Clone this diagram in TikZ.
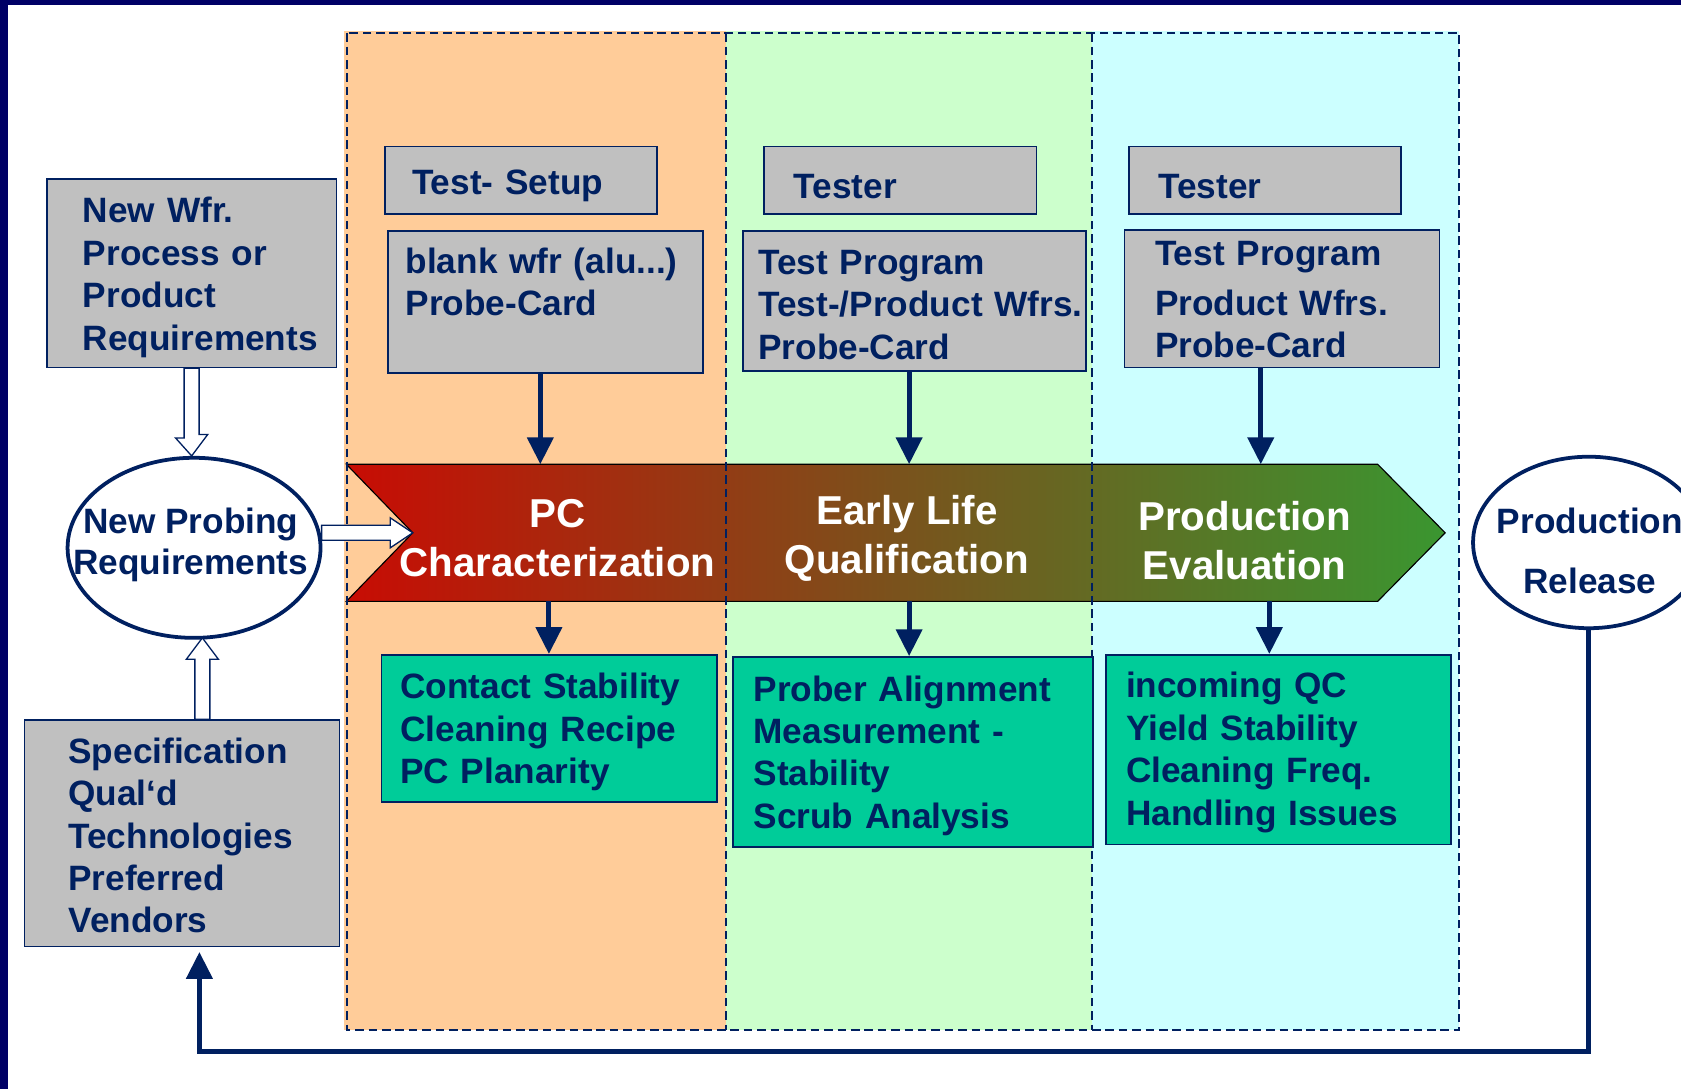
\documentclass[tikz,border=0pt]{standalone}
\usepackage{fontspec}
\setmainfont{Liberation Sans}
\usetikzlibrary{arrows.meta,shapes.geometric,calc}

\definecolor{navy}{RGB}{0,32,96}
\definecolor{framenavy}{RGB}{0,0,102}
\definecolor{boxgray}{RGB}{192,192,192}
\definecolor{boxteal}{RGB}{0,204,153}
\definecolor{colorange}{RGB}{255,204,153}
\definecolor{colgreen}{RGB}{204,255,204}
\definecolor{colcyan}{RGB}{204,255,255}
\definecolor{chevred}{RGB}{200,12,4}
\definecolor{chevmid}{RGB}{122,82,28}
\definecolor{chevgreen}{RGB}{58,150,48}

\tikzset{
  gbox/.style={draw=navy, line width=0.9pt, fill=boxgray, anchor=north west, inner sep=0pt},
  tbox/.style={gbox, fill=boxteal},
  btext/.style={text=navy, font=\bfseries\fontsize{18.7}{22.5}\selectfont, text width=7cm, align=left, inner sep=0pt, anchor=base west},
  ctext/.style={text=white, font=\bfseries\fontsize{21.4}{26.1}\selectfont, align=center, inner sep=0pt},
  oval/.style={ellipse, draw=navy, line width=2pt, fill=white, inner sep=0pt},
  otext/.style={text=navy, font=\bfseries\fontsize{18.7}{21.6}\selectfont, align=center, inner sep=0pt},
  colbox/.style={draw=navy, line width=1.1pt, dash pattern=on 0.16cm off 0.09cm},
  hollow/.style={draw=navy, line width=0.7pt, fill=white},
  navyarr/.style={draw=navy, line width=2.6pt, ->}
}

\begin{document}
\begin{tikzpicture}[>={Triangle[length=0.5cm,width=0.48cm]}, x=0.02cm, y=-0.02cm]
\useasboundingbox (0,0) rectangle (1568,1016);
\fill[white] (0,0) rectangle (1568,1016);
\fill[framenavy] (0,0) rectangle (1568,4.7);
\fill[framenavy] (0,0) rectangle (7.5,1016);

% phase columns
\fill[colorange] (321,29) rectangle (677,961);
\fill[colgreen] (677,29) rectangle (1019,961);
\fill[colcyan] (1019,29) rectangle (1361,961);

% chevron
\coordinate (notch) at (385,497);
\path[draw=black, line width=0.6pt, left color=chevred, right color=chevgreen, middle color=chevmid]
  (323,433) -- (1285,433) -- (1348,497) -- (1285,561) -- (323,561) -- (notch) -- cycle;
\node[ctext] (pc) at (520,502) {PC\\Characterization};
\node[ctext] (elq) at (846,502) {Early Life\\Qualification};
\node[ctext] (pe) at (1161,504) {Production\\Evaluation};
\coordinate (pcN) at (504,433);
\coordinate (elqN) at (848,433);
\coordinate (peN) at (1176,433);
\coordinate (pcS) at (512,561);
\coordinate (elqS) at (848,561);
\coordinate (peS) at (1184,561);

\draw[colbox] (324,31) rectangle (1361,961);
\draw[colbox] (677,31) -- (677,961);
\draw[colbox] (1019,31) -- (1019,961);

% left side
\node[gbox, minimum width=5.4cm, minimum height=3.52cm] (wfr) at (43,166) {};
\node[btext] (wfrT) at (77,208) {New Wfr.\\Process or\\Product\\Requirements};
\node[gbox, minimum width=5.88cm, minimum height=4.22cm] (spec) at (22,671) {};
\node[btext] (specT) at (63.5,712) {Specification\\Qual‘d\\Technologies\\Preferred\\Vendors};
\node[oval, minimum width=4.72cm, minimum height=3.36cm] (npr) at (181,511) {};
\node[otext] (nprT) at (178,508.5) {New Probing\\Requirements};

% top boxes
\node[gbox, minimum width=5.08cm, minimum height=1.26cm] (setup) at (358,136) {};
\node[btext] (setupT) at (384,181) {Test- Setup};
\node[gbox, minimum width=5.88cm, minimum height=2.64cm] (blank) at (361,215) {};
\node[btext] (blankT) at (378,255) {blank wfr (alu...)\\Probe-Card};
\node[gbox, minimum width=5.08cm, minimum height=1.26cm] (testerA) at (712,136) {};
\node[btext] (testerAT) at (740,185) {Tester};
\node[gbox, minimum width=6.4cm, minimum height=2.6cm] (progA) at (692,215) {};
\node[btext] (progAT) at (707,256) {Test Program\\Test-/Product Wfrs.\\Probe-Card};
\node[gbox, minimum width=5.08cm, minimum height=1.26cm] (testerB) at (1052,136) {};
\node[btext] (testerBT) at (1080,185) {Tester};
\node[gbox, minimum width=5.88cm, minimum height=2.56cm] (progB) at (1048,214) {};
\node[btext] (progBT) at (1077,248) {Test Program\\[3.6pt]Product Wfrs.\\Probe-Card};

% bottom boxes
\node[tbox, minimum width=6.26cm, minimum height=2.74cm] (contact) at (355,610) {};
\node[btext] (contactT) at (373,652) {Contact Stability\\Cleaning Recipe\\PC Planarity};
\node[tbox, minimum width=6.72cm, minimum height=3.54cm] (prober) at (683,612) {};
\node[btext] (proberT) at (702.5,654) {Prober Alignment\\Measurement -\\Stability\\Scrub Analysis};
\node[tbox, minimum width=6.44cm, minimum height=3.54cm] (incoming) at (1031,610) {};
\node[btext] (incomingT) at (1050,651) {incoming QC\\Yield Stability\\Cleaning Freq.\\Handling Issues};

% right side
\node[oval, minimum width=4.32cm, minimum height=3.2cm] (rel) at (1482,506) {};
\node[otext, font=\bfseries\fontsize{18.7}{31.8}\selectfont] (relT) at (1483,514) {Production\\Release};

% block arrows
\draw[hollow] ($(wfr.south)+(-7,0)$) -- ++(0,65) -- ++(-8,0) -- (wfr.south |- npr.north) -- ++(15,-20) -- ++(-8,0) -- ($(wfr.south)+(7,0)$) -- cycle;
\draw[hollow] ($(spec.north)+(12,0)$) -- ++(0,-56) -- ++(-8,0) -- ($(spec.north)+(19,-76)$) -- ++(15,20) -- ++(-8,0) -- ($(spec.north)+(26,0)$) -- cycle;
\draw[hollow] (notch) -- ++(-21,-14) -- ++(0,7) -- ++(-64,0) -- ++(0,14) -- ++(64,0) -- ++(0,7) -- cycle;

% flow arrows
\draw[navyarr] (blank.south -| pcN) -- (pcN);
\draw[navyarr] (progA.south -| elqN) -- (elqN);
\draw[navyarr] (progB.south -| peN) -- (peN);
\draw[navyarr] (pcS) -- (pcS |- contact.north);
\draw[navyarr] (elqS) -- (elqS |- prober.north);
\draw[navyarr] (peS) -- (peS |- incoming.north);

\coordinate (loopturn) at (186,981);
\coordinate (loopend) at (186,888);
\draw[navyarr] (rel.south) |- (loopturn) -- (loopend);
\end{tikzpicture}
\end{document}
